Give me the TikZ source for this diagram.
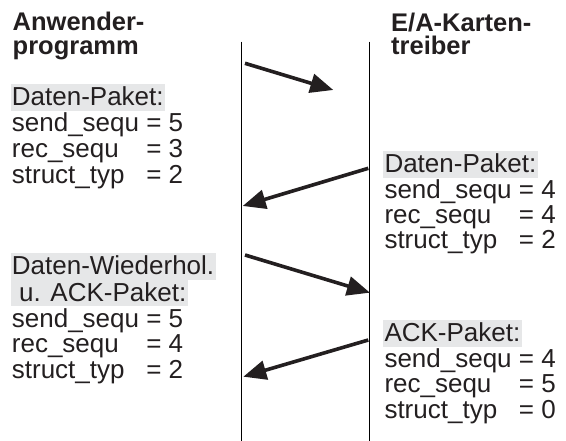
\documentclass[tikz,border=0pt]{standalone}
\usepackage{fontspec}
\setmainfont{Liberation Sans}
\usetikzlibrary{arrows.meta}
\definecolor{ink}{HTML}{231F20}
\definecolor{hl}{HTML}{E6E7E8}
% field name padded to a common width, then "= value"
\newcommand\seqfield[2]{\makebox[5.17em][l]{#1}= #2}

\begin{document}
\begin{tikzpicture}[x=1pt,y=-1pt,
  txt/.style={anchor=base west, inner sep=0pt, text=ink, font=\fontsize{26}{26}\selectfont},
  title/.style={txt, font=\fontsize{25.5}{25.5}\selectfont\bfseries},
  pkt/.style={txt, fill=hl, inner xsep=1.3pt, text height=21.5pt, text depth=4.6pt},
  lifeline/.style={line width=1pt, draw=black},
  msg/.style={line width=3.6pt, draw=ink, -{Triangle[length=23pt,width=19pt]}}]
\useasboundingbox (0,0) rectangle (566,441);

% headings
\node[title] (hA1) at (12.5,30.5) {Anwender-};
\node[title] (hA2) at (12.5,55) {programm};
\node[title] (hB1) at (391,31.5) {E/A-Karten-};
\node[title] (hB2) at (391,55) {treiber};

% lifelines
\coordinate (Ltop) at (241.7,41.7);
\coordinate (Lbot) at (241.7,441);
\coordinate (Rtop) at (369.3,41.7);
\coordinate (Rbot) at (369.3,441);
\draw[lifeline] (Ltop) -- (Lbot);
\draw[lifeline] (Rtop) -- (Rbot);

% packet 1 (application side)
\node[pkt] (p1h) at (10.4,106) {Daten-Paket:};
\node[txt] (p1a) at (11.7,132) {\seqfield{send\_sequ}{5}};
\node[txt] (p1b) at (11.7,158) {\seqfield{rec\_sequ}{3}};
\node[txt] (p1c) at (11.7,183.5) {\seqfield{struct\_typ}{2}};

% packet 2 (driver side)
\node[pkt] (p2h) at (383,173) {Daten-Paket:};
\node[txt] (p2a) at (384.3,198.3) {\seqfield{send\_sequ}{4}};
\node[txt] (p2b) at (384.3,223.3) {\seqfield{rec\_sequ}{4}};
\node[txt] (p2c) at (384.3,248.3) {\seqfield{struct\_typ}{2}};

% packet 3 (application side)
\node[pkt] (p3h) at (10.4,275) {Daten-Wiederhol.};
\node[pkt] (p3i) at (10.4,301.1) {\ u. ACK-Paket:};
\node[txt] (p3a) at (11.7,327) {\seqfield{send\_sequ}{5}};
\node[txt] (p3b) at (11.7,352.5) {\seqfield{rec\_sequ}{4}};
\node[txt] (p3c) at (11.7,378) {\seqfield{struct\_typ}{2}};

% packet 4 (driver side)
\node[pkt] (p4h) at (383,342) {ACK-Paket:};
\node[txt] (p4a) at (384.3,367) {\seqfield{send\_sequ}{4}};
\node[txt] (p4b) at (384.3,392.5) {\seqfield{rec\_sequ}{5}};
\node[txt] (p4c) at (384.3,418) {\seqfield{struct\_typ}{0}};

% messages
\coordinate (m1s) at (245,63.3);
\coordinate (m1e) at (333.3,90);
\coordinate (m2s) at (368.3,168.3);
\coordinate (m2e) at (242.7,206);
\coordinate (m3s) at (245,255);
\coordinate (m3e) at (370,292.7);
\coordinate (m4s) at (368.3,340);
\coordinate (m4e) at (243.3,376.7);
\draw[msg] (m1s) -- (m1e);
\draw[msg] (m2s) -- (m2e);
\draw[msg] (m3s) -- (m3e);
\draw[msg] (m4s) -- (m4e);
\end{tikzpicture}
\end{document}
